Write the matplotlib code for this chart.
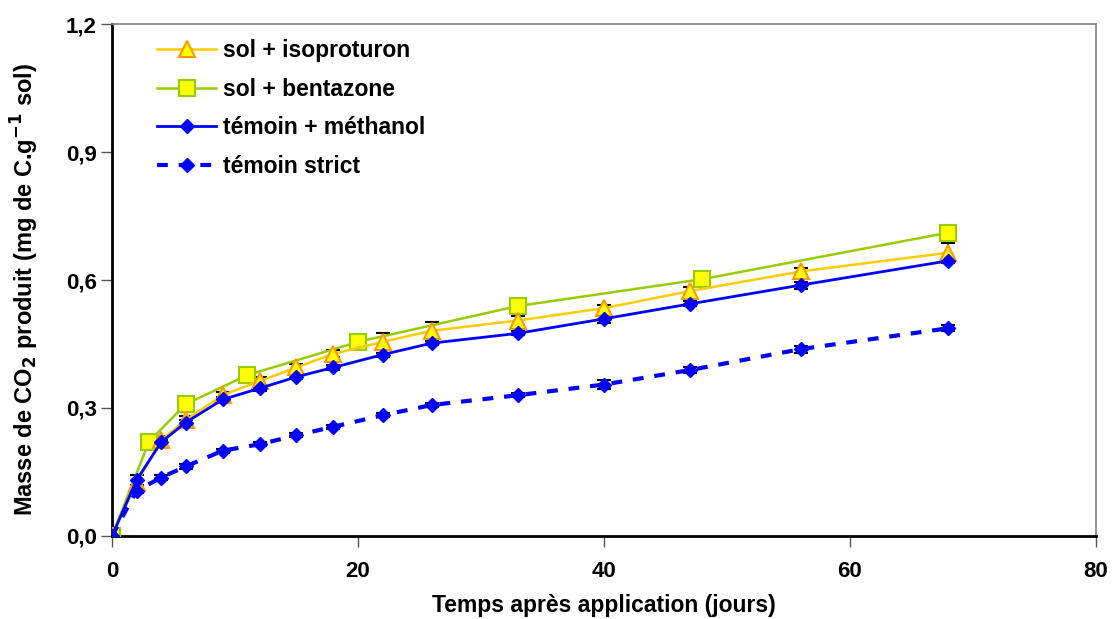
import numpy as np
import matplotlib
matplotlib.use("Agg")
import matplotlib.pyplot as plt
from matplotlib.ticker import FuncFormatter

plt.rcParams['font.family'] = ['Liberation Sans', 'DejaVu Sans']
plt.rcParams['font.weight'] = 'bold'

# ------------------------------------------------------------------------------
# DATA
jours = [0, 2, 4, 6, 9, 12, 15, 18, 22, 26, 33, 40, 47, 56, 68]
isoproturon = [0.0, 0.124, 0.225, 0.272, 0.330, 0.363, 0.395, 0.427, 0.455, 0.481, 0.505, 0.534, 0.574, 0.620, 0.664]
isoproturon_err = [0.0, 0.018, 0.010, 0.010, 0.008, 0.010, 0.008, 0.008, 0.020, 0.020, 0.010, 0.008, 0.010, 0.008, 0.022]

jours_benta = [0, 3, 6, 11, 20, 33, 48, 68]
bentazone = [0.0, 0.221, 0.309, 0.377, 0.455, 0.539, 0.602, 0.711]
bentazone_err = [0.0, 0.005, 0.005, 0.005, 0.005, 0.005, 0.005, 0.005]

methanol = [0.0, 0.131, 0.220, 0.266, 0.320, 0.346, 0.373, 0.395, 0.425, 0.452, 0.475, 0.509, 0.544, 0.588, 0.645]
methanol_err = [0.0, 0.012, 0.006, 0.006, 0.005, 0.005, 0.005, 0.005, 0.005, 0.005, 0.005, 0.010, 0.006, 0.008, 0.006]

strict = [0.0, 0.106, 0.137, 0.163, 0.200, 0.215, 0.236, 0.256, 0.283, 0.307, 0.330, 0.355, 0.389, 0.438, 0.487]
strict_err = [0.0, 0.006, 0.005, 0.005, 0.005, 0.005, 0.005, 0.005, 0.005, 0.005, 0.005, 0.010, 0.006, 0.008, 0.007]

labels = ["sol + isoproturon", "sol + bentazone", "témoin + méthanol", "témoin strict"]

# ------------------------------------------------------------------------------
# FIGURE
fig = plt.figure(figsize=(11.12, 6.19), dpi=100)
ax = fig.add_axes([0.1007, 0.1341, 0.8849, 0.8271])

err_kw = dict(fmt='none', ecolor='black', elinewidth=1.2, capsize=5, capthick=1.5, zorder=2)

# error bars first (drawn behind markers)
ax.errorbar(jours, strict, yerr=strict_err, **err_kw)
ax.errorbar(jours, methanol, yerr=methanol_err, **err_kw)
ax.errorbar(jours_benta, bentazone, yerr=bentazone_err, **err_kw)
ax.errorbar(jours, isoproturon, yerr=isoproturon_err, **err_kw)

l1, = ax.plot(jours, isoproturon, color='#FFCC00', lw=1.8, marker='^', markersize=11,
              markerfacecolor='#FFFF00', markeredgecolor='#FF9900', markeredgewidth=1.5, zorder=4)
l2, = ax.plot(jours_benta, bentazone, color='#99CC00', lw=1.8, marker='s', markersize=11,
              markerfacecolor='#FFFF00', markeredgecolor='#99CC00', markeredgewidth=1.5, zorder=3)
l3, = ax.plot(jours, methanol, color='#0000FF', lw=2, marker='D', markersize=7.5,
              markerfacecolor='#0000FF', markeredgecolor='#0000FF', zorder=5)
l4, = ax.plot(jours, strict, color='#0000FF', lw=3, ls=(0, (2.6, 2.6)), marker='D', markersize=7.5,
              markerfacecolor='#0000FF', markeredgecolor='#0000FF', zorder=5)

ax.set_xlim(0, 80)
ax.set_ylim(0, 1.2)
ax.set_xticks([0, 20, 40, 60, 80])
ax.set_yticks([0, 0.3, 0.6, 0.9, 1.2])
ax.yaxis.set_major_formatter(FuncFormatter(lambda v, p: ("%.1f" % v).replace('.', ',')))
ax.tick_params(axis='both', direction='out', length=8, width=1, color='#555555', labelsize=16)
ax.tick_params(axis='x', pad=10)
ax.tick_params(axis='y', pad=3)
for lab in ax.get_xticklabels() + ax.get_yticklabels():
    lab.set_fontweight('bold')

for s in ['left', 'bottom']:
    ax.spines[s].set_color('black')
    ax.spines[s].set_linewidth(2)
for s in ['top', 'right']:
    ax.spines[s].set_color('#808080')
    ax.spines[s].set_linewidth(1.2)

ax.set_xlabel("Temps après application (jours)", fontsize=16.5, fontweight='bold', labelpad=9)
ax.set_ylabel("Masse de CO$_\\mathbf{2}$ produit (mg de C.g$^\\mathbf{-1}$ sol)",
              fontsize=17, fontweight='bold')
ax.yaxis.set_label_coords(-0.072, 0.482)

leg = ax.legend([l1, l2, l3, l4], labels, loc='upper left', bbox_to_anchor=(0.034, 0.993),
                frameon=False, borderpad=0, handlelength=2.6, labelspacing=0.68,
                handletextpad=0.3, prop={'size': 16.5, 'weight': 'bold'})

fig.savefig("out.png", dpi=100)
